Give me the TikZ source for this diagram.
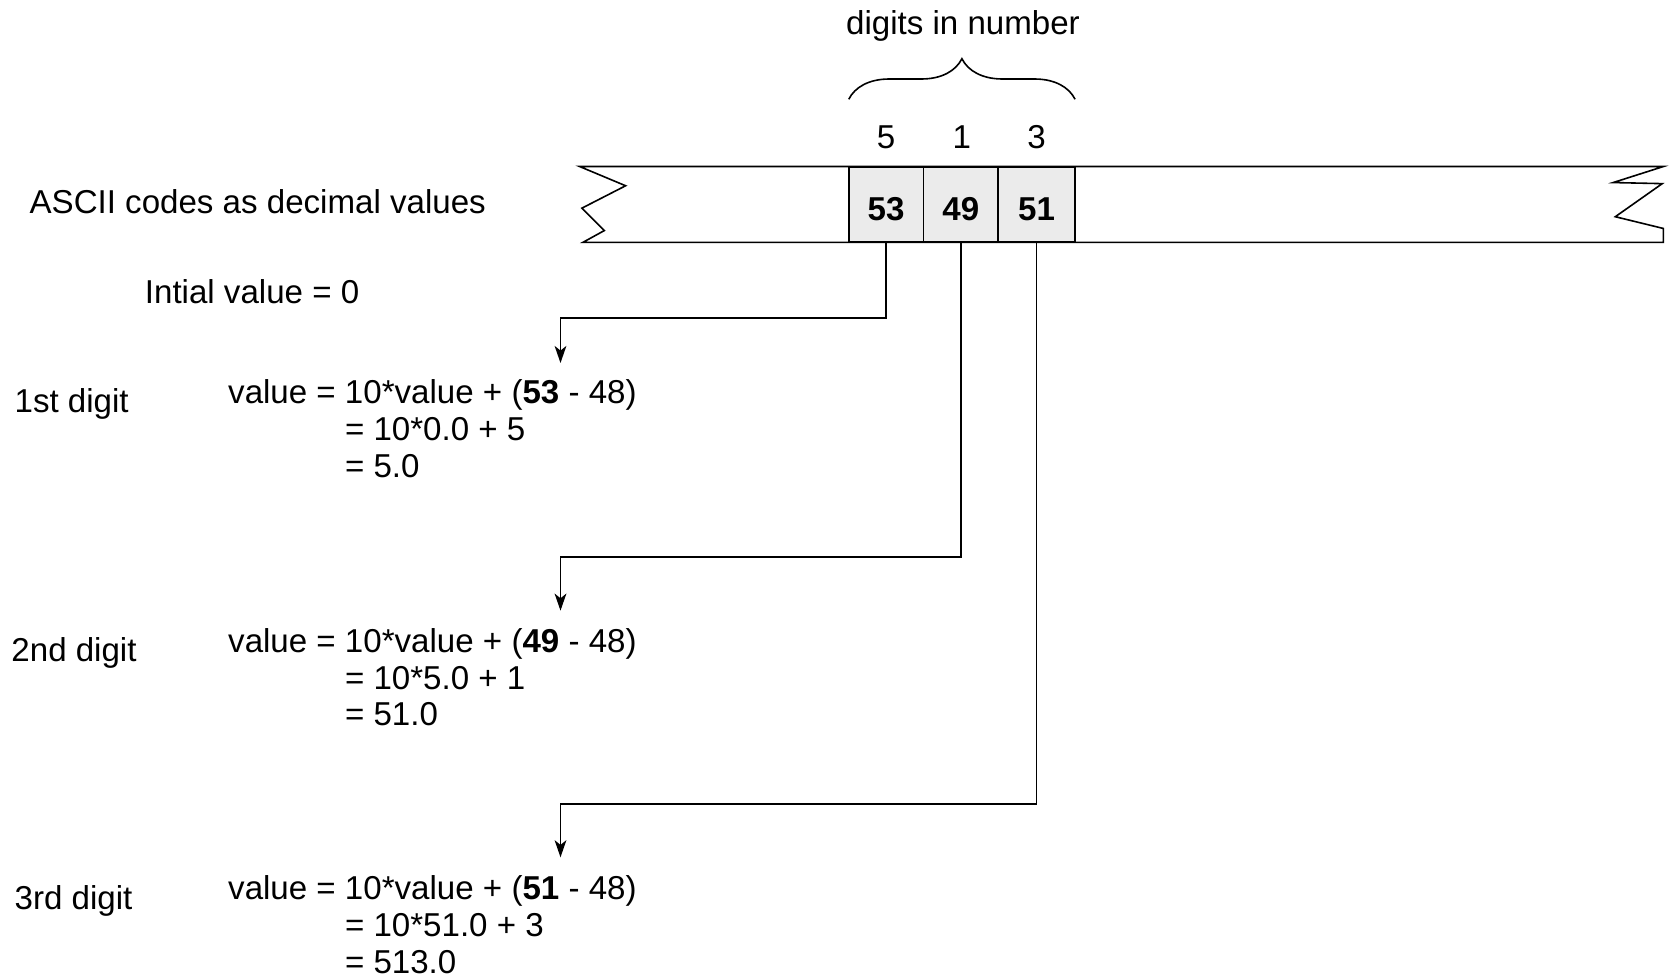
\documentclass[tikz,border=0pt]{standalone}
\usepackage{fontspec}
\setmainfont{Liberation Sans}
\usetikzlibrary{arrows.meta,decorations.pathreplacing}
\begin{document}
\begin{tikzpicture}[x=0.5pt,y=-0.5pt,line width=0.75pt,
  txt/.style={inner sep=0pt,anchor=base west,font=\fontsize{15.5}{17.25}\selectfont},
  ctxt/.style={inner sep=0pt,anchor=base,font=\fontsize{15.5}{17.25}\selectfont},
  cell/.style={draw,fill=black!8,minimum height=35pt,inner sep=0pt,text height=15.5pt,text depth=0pt,font=\fontsize{15.5}{17.25}\selectfont\bfseries},
  arr/.style={-{Stealth[length=8pt,width=5.5pt,inset=2.2pt]}},
  brc/.style={decorate,decoration={brace,amplitude=19pt}}]
\useasboundingbox (0,0) rectangle (1568,915);
% tape
\draw (543,156) -- (1558,156) -- (1511,171) -- (1557,172) -- (1513,203) -- (1558,214) -- (1558,227) -- (546,227) -- (566,216) -- (545,195) -- (586,174) -- cycle;
% cells
\node[cell,minimum width=35pt] (b1) at (830,191.5) {53};
\node[cell,minimum width=35pt] (b2) at (900,191.5) {49};
\node[cell,minimum width=36pt] (b3) at (971,191.5) {51};
% digits
\node[ctxt] (d1) at (830,139) {5};
\node[ctxt] (d2) at (901,139) {1};
\node[ctxt] (d3) at (971,139) {3};
\coordinate (brL) at (795,93);
\coordinate (brR) at (1007,93);
\draw[brc] (brL) -- (brR);
\node[ctxt] (dig) at (902,32) {digits in number};
% left labels
\node[txt] (ascii) at (27,200) {ASCII codes as decimal values};
\node[txt] (init) at (135,284) {Intial value = 0};
\node[txt] (l1) at (13,386) {1st digit};
\node[txt] (l2) at (10,620) {2nd digit};
\node[txt] (l3) at (13,852) {3rd digit};
% formulas
\node[txt] (f1) at (213,378) {\begin{tabular}[t]{@{}r@{}l@{}}value = \mbox{}&10*value + (\textbf{53} - 48)\\ &= 10*0.0 + 5\\ &= 5.0\end{tabular}};
\node[txt] (f2) at (213,611) {\begin{tabular}[t]{@{}r@{}l@{}}value = \mbox{}&10*value + (\textbf{49} - 48)\\ &= 10*5.0 + 1\\ &= 51.0\end{tabular}};
\node[txt] (f3) at (213,843) {\begin{tabular}[t]{@{}r@{}l@{}}value = \mbox{}&10*value + (\textbf{51} - 48)\\ &= 10*51.0 + 3\\ &= 513.0\end{tabular}};
% connectors
\coordinate (k1) at (525,298);
\coordinate (e1) at (525,340);
\coordinate (k2) at (525,522);
\coordinate (e2) at (525,572);
\coordinate (k3) at (525,753);
\coordinate (e3) at (525,803);
\draw[arr] (b1.south) -- (b1.south |- k1) -- (k1) -- (e1);
\draw[arr] (b2.south) -- (b2.south |- k2) -- (k2) -- (e2);
\draw[arr] (b3.south) -- (b3.south |- k3) -- (k3) -- (e3);
\end{tikzpicture}
\end{document}
